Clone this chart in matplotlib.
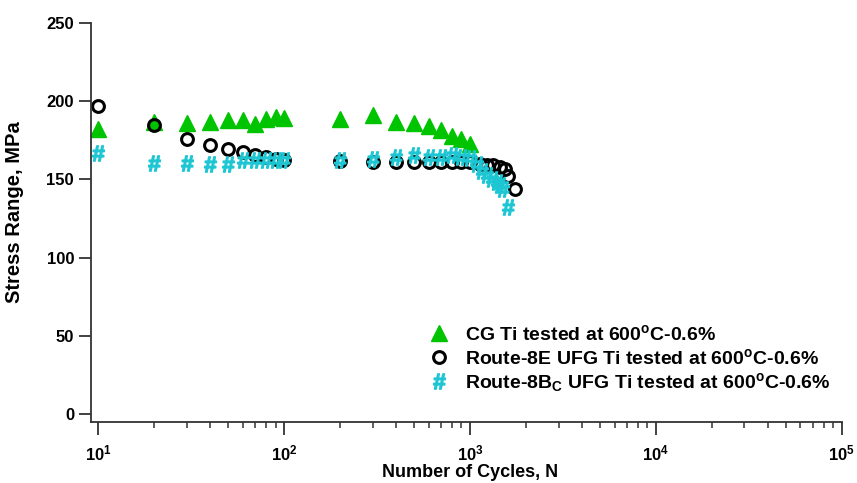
import matplotlib
matplotlib.use('Agg')
import matplotlib.pyplot as plt
import numpy as np

plt.rcParams['font.family'] = 'Liberation Sans'
plt.rcParams['font.weight'] = 'bold'
plt.rcParams['mathtext.fontset'] = 'custom'
plt.rcParams['mathtext.rm'] = 'Liberation Sans:bold'
plt.rcParams['mathtext.bf'] = 'Liberation Sans:bold'
plt.rcParams['mathtext.default'] = 'bf'

# CG Ti
cg_n = [10, 20, 30, 40, 50, 60, 70, 80, 90, 100,
        200, 300, 400, 500, 600, 700, 800, 900, 1000]
cg_s = [182, 186.5, 186, 186.5, 188, 188, 185, 188.5, 190, 189,
        188.5, 191, 186.5, 186, 184, 181.5, 177.5, 176, 172.5]

# Route-8E UFG Ti
e_n = [10, 20, 30, 40, 50, 60, 70, 80, 90, 100,
       200, 300, 400, 500, 600, 700, 800, 900, 1000,
       1127, 1228, 1324, 1442, 1535, 1593, 1738]
e_s = [196.5, 184.5, 176, 172, 169, 167.5, 165.6, 164.3, 163, 162.4,
       161.5, 161, 161, 161, 161, 161, 161, 161, 161,
       160, 159.3, 159, 158, 156.7, 152, 144]

# Route-8Bc UFG Ti
bc_n = [10, 20, 30, 40, 50, 60, 70, 80, 90, 100,
        200, 300, 400, 500, 600, 700, 800, 900, 1000,
        1086, 1155, 1228, 1306, 1390, 1442, 1500, 1593]
bc_s = [167, 160.5, 160.5, 160, 160, 162, 162.4, 162.4, 162.5, 162,
        162, 163, 164, 165.5, 164, 164, 165.5, 164, 163.5,
        160, 155, 153, 150, 148.5, 146.5, 144, 132]

fig = plt.figure(figsize=(8.57, 4.83), dpi=100)
ax = fig.add_axes([0.1058, 0.1269, 0.8763, 0.8261])

ax.plot(cg_n, cg_s, linestyle='none', marker='^', markersize=11,
        color='#00c400', label=r'CG Ti tested at 600$^{\mathbf{o}}$C-0.6%')
ax.plot(e_n, e_s, linestyle='none', marker='o', markersize=8.5,
        markerfacecolor='none', markeredgecolor='black', markeredgewidth=2.2,
        label=r'Route-8E UFG Ti tested at 600$^{\mathbf{o}}$C-0.6%')
ax.plot(bc_n, bc_s, linestyle='none', marker=r'$\#$', markersize=11,
        color='#1cc6d2',
        label=r'Route-8B$_{\mathbf{C}}$ UFG Ti tested at 600$^{\mathbf{o}}$C-0.6%')

ax.set_xscale('log')
ax.set_xlim(9.1, 1e5)
ax.set_ylim(-4.9, 250)
ax.set_yticks([0, 50, 100, 150, 200, 250])
ax.yaxis.set_minor_locator(matplotlib.ticker.NullLocator())

for s in ['top', 'right']:
    ax.spines[s].set_visible(False)
for s in ['left', 'bottom']:
    ax.spines[s].set_linewidth(1.3)
    ax.spines[s].set_color('#333333')

ax.tick_params(axis='y', which='major', direction='out', length=9, width=1.3,
               labelsize=12, pad=3, color='#333333')
ax.tick_params(axis='x', which='major', direction='out', length=9, width=1.3,
               labelsize=12, pad=7, color='#333333')
ax.tick_params(axis='x', which='minor', direction='out', length=4, width=1.1,
               color='#333333')

ax.set_xlabel('Number of Cycles, N', fontsize=13, fontweight='bold')
ax.set_ylabel('Stress Range, MPa', fontsize=14.5, fontweight='bold')
ax.xaxis.set_label_coords(0.505, -0.106)
ax.yaxis.set_label_coords(-0.089, 0.526)

ax.legend(loc='upper left', bbox_to_anchor=(0.478, 0.365), bbox_transform=fig.transFigure,
          frameon=False, fontsize=14, handletextpad=0.75, labelspacing=0.17,
          handlelength=1.2)

fig.savefig('out.png', dpi=100)
